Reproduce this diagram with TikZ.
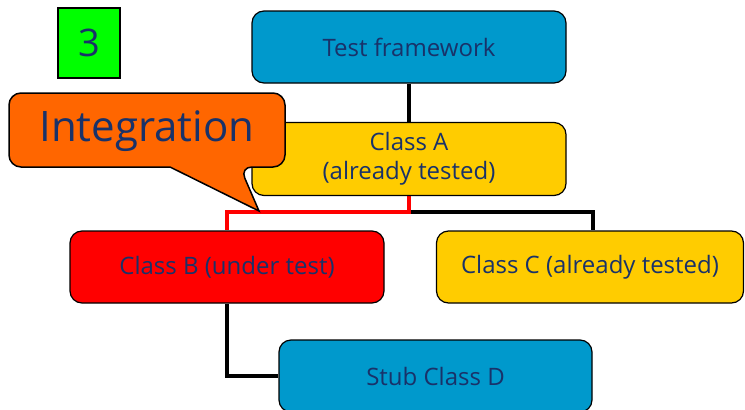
\documentclass[tikz,border=0pt]{standalone}
\usepackage{fontspec}
\setmainfont{Open Sans}
\usetikzlibrary{calc}
\usetikzlibrary{backgrounds}
\definecolor{txtblue}{RGB}{25,50,105}
\definecolor{boxblue}{RGB}{0,153,204}
\definecolor{boxyellow}{RGB}{255,204,0}
\definecolor{boxred}{RGB}{255,0,0}
\definecolor{boxgreen}{RGB}{0,255,0}
\definecolor{calloutorange}{RGB}{255,102,0}
\tikzset{
    classbox/.style={draw=black, line width=1.2pt, rounded corners=12pt, minimum width=314pt, minimum height=72pt, text=txtblue, font=\fontsize{24}{29}\selectfont, align=center},
    conn/.style={line width=4pt, black},
    testconn/.style={line width=3.5pt, boxred}
}

\begin{document}
\begin{tikzpicture}[x=1pt,y=-1pt]
    \useasboundingbox (0,0) rectangle (745,410);
    \node[draw=black, line width=2pt, fill=boxgreen, minimum width=62pt, minimum height=70pt, text=txtblue, font=\fontsize{38}{40}\selectfont] (three) at (89,43) {3};
    \node[classbox, fill=boxblue] (tf) at (409,47) {Test framework};
    \node[classbox, fill=boxyellow, minimum height=73pt] (clA) at (409,159) {Class A\\(already tested)};
    \node[classbox, fill=boxred] (clB) at (227,267) {Class B (under test)};
    \node[classbox, fill=boxyellow, minimum width=307pt] (clC) at (590,267) {Class C (already tested)};
    \node[classbox, fill=boxblue, minimum width=313pt] (stubD) at (435.5,376) {Stub Class D};
    \coordinate (jn) at ($(clA.south)+(0,16)$);
    % connectors
    \begin{scope}[on background layer]
        \draw[conn] (tf.south) -- (clA.north);
        \draw[conn] (jn) -| ($(clC.north)+(3,0)$);
        \draw[testconn] (clA.south) -- (jn) -| (clB.north);
        \draw[conn] (clB.south) |- (stubD.west);
    \end{scope}
    % callout
    \coordinate (tip) at (259,211);
    \draw[fill=calloutorange, line width=1.5pt, rounded corners=12pt]
        (9,93) -- (285,93) -- (285,167) -- (240,167) [sharp corners] -- (tip)
        -- (170,167) [rounded corners=12pt] -- (9,167) -- cycle;
    \node[text=txtblue, font=\fontsize{42}{44}\selectfont] (integ) at (147,131) {Integration};
\end{tikzpicture}
\end{document}
